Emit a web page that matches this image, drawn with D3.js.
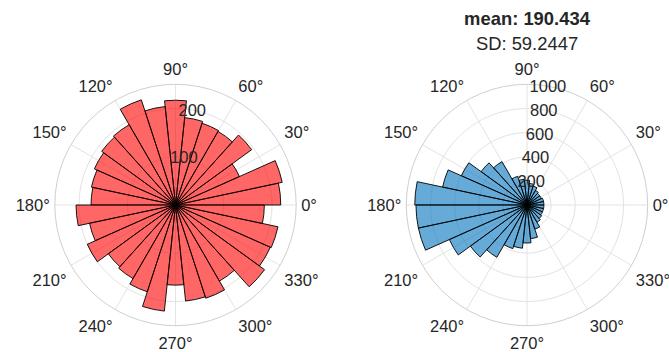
<!DOCTYPE html>
<html>
<head>
<meta charset="utf-8">
<script src="https://cdn.jsdelivr.net/npm/d3@7"></script>
<style>
  html, body { margin: 0; padding: 0; background: #fff; }
  svg text { font-family: "Liberation Sans", Arial, Helvetica, sans-serif; fill: #262626; }
</style>
</head>
<body>
<svg id="chart" width="669" height="352"></svg>
<script>
// Counts per 12° direction bin, bins start at 0° and run counter-clockwise.
const leftCounts = [218, 226, 145, 195, 176, 178, 182, 217, 205, 229,
                    192, 189, 184, 178, 175, 206, 182, 200, 172, 176,
                    189, 221, 166, 200, 203, 182, 228, 215, 217, 184];
const rightCounts = [140, 140, 130, 130, 140, 165, 180, 205, 215, 250,
                     415, 470, 595, 715, 930, 920, 920, 704, 580, 500,
                     380, 360, 315, 280, 210, 165, 150, 140, 140, 140];

// Radial limits and tick labels of each polar panel
const leftRMax = 250;
const leftRTicks = [100, 200];
const rightRMax = 1000;
const rightRTicks = [200, 400, 600, 800, 1000];
const thetaTicks = d3.range(0, 360, 30);

const rightTitle = ["mean: 190.434", "SD: 59.2447"];

const svg = d3.select("#chart");
const R = 120.7;
const tickFont = 16.5;

function polarPanel(cx, cy, counts, rMax, rTicks, color) {
  const g = svg.append("g").attr("transform", `translate(${cx},${cy})`);
  const r = d3.scaleLinear().domain([0, rMax]).range([0, R]);
  const binWidth = 360 / counts.length;
  const rad = d => d * Math.PI / 180;

  // grid circles
  g.selectAll("circle.grid").data(rTicks.filter(t => t < rMax)).join("circle")
    .attr("r", d => r(d)).attr("fill", "none")
    .attr("stroke", "#e3e3e3").attr("stroke-width", 1);
  // spokes
  g.selectAll("line.spoke").data(thetaTicks).join("line")
    .attr("x1", 0).attr("y1", 0)
    .attr("x2", d => R * Math.cos(rad(d))).attr("y2", d => -R * Math.sin(rad(d)))
    .attr("stroke", "#e3e3e3").attr("stroke-width", 1);
  // outer boundary
  g.append("circle").attr("r", R).attr("fill", "none")
    .attr("stroke", "#cfcfcf").attr("stroke-width", 1);

  // bars (wedges); d3.arc angles are clockwise from 12 o'clock
  const arc = d3.arc().innerRadius(0);
  g.selectAll("path.bar").data(counts).join("path")
    .attr("d", (v, i) => arc({
      outerRadius: r(v),
      startAngle: rad(90 - (i + 1) * binWidth),
      endAngle: rad(90 - i * binWidth)
    }))
    .attr("fill", color).attr("fill-opacity", 0.6)
    .attr("stroke", "#000").attr("stroke-width", 0.9)
    .attr("stroke-linejoin", "miter");

  // angle labels
  const off = R + 5;
  const eps = 1e-6;
  g.selectAll("text.theta").data(thetaTicks).join("text")
    .attr("font-size", tickFont)
    .attr("x", d => off * Math.cos(rad(d)))
    .attr("y", d => {
      const s = Math.sin(rad(d)), y = -off * s;
      if (s > eps) return y - 4.3;
      if (s < -eps) return y + 18.1;
      return y + 5.9;
    })
    .attr("text-anchor", d => {
      const c = Math.cos(rad(d));
      return c > eps ? "start" : (c < -eps ? "end" : "middle");
    })
    .text(d => d + "°");

  // radial tick labels along 80°
  g.selectAll("text.rtick").data(rTicks).join("text")
    .attr("font-size", tickFont)
    .attr("text-anchor", "middle")
    .attr("x", d => r(d) * Math.cos(rad(80)))
    .attr("y", d => -r(d) * Math.sin(rad(80)) + 5.9)
    .text(d => d);
  return g;
}

polarPanel(175.5, 205, leftCounts, leftRMax, leftRTicks, "#ff0000");
polarPanel(527, 205, rightCounts, rightRMax, rightRTicks, "#0072bd");

svg.append("text").attr("x", 527).attr("y", 25)
  .attr("text-anchor", "middle").attr("font-size", 18.4).attr("font-weight", "bold")
  .text(rightTitle[0]);
svg.append("text").attr("x", 527).attr("y", 50)
  .attr("text-anchor", "middle").attr("font-size", 18.4)
  .text(rightTitle[1]);
</script>
</body>
</html>
